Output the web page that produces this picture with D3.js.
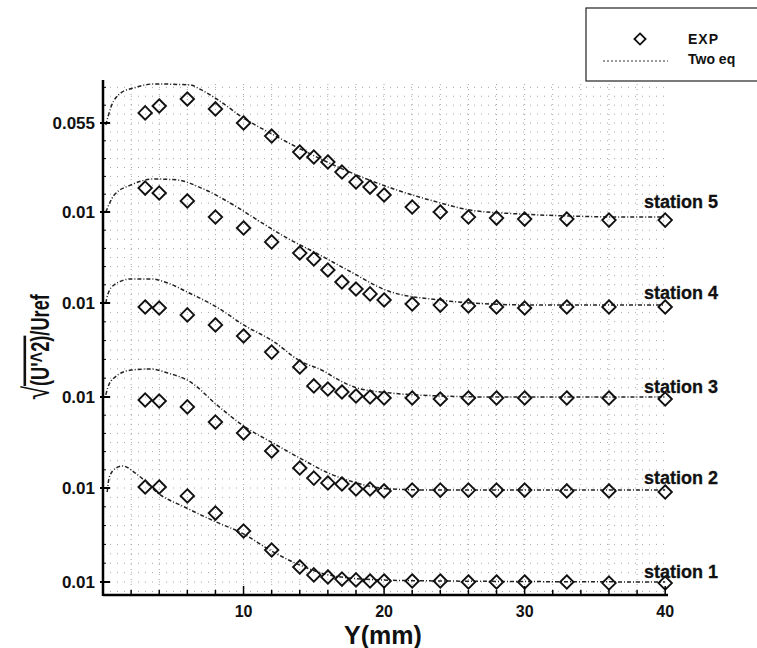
<!DOCTYPE html>
<html><head><meta charset="utf-8">
<script src="https://cdn.jsdelivr.net/npm/d3@7"></script>
<style>
html,body{margin:0;padding:0;background:#fff;}
svg{display:block;}
text{font-family:"Liberation Sans",Arial,Helvetica,sans-serif;font-weight:bold;fill:#111;}
</style></head>
<body>
<svg id="chart" width="757" height="648"></svg>
<script>
// ---------- data ----------
const xTicks = [10, 20, 30, 40];
const yTickValues = [0.01, 0.055, 0.10, 0.145, 0.19, 0.235];
const yTickLabels = ["0.01", "0.01", "0.01", "0.01", "0.01", "0.055"];
const stationNames = ["station 1", "station 2", "station 3", "station 4", "station 5"];
const stationOffsets = [0, 0.045, 0.09, 0.135, 0.18];

const expX = [3, 4, 6, 8, 10, 12, 14, 15, 16, 17, 18, 19, 20, 22, 24, 26, 28, 30, 33, 36, 40];
const exp1 = [0.0555, 0.0555, 0.0512, 0.0430, 0.0344, 0.0253, 0.0172, 0.0134, 0.0124, 0.0114, 0.0110, 0.0105, 0.0105, 0.0105, 0.0105, 0.0100, 0.0100, 0.0100, 0.0100, 0.0095, 0.0095];
const exp2 = [0.0535, 0.0530, 0.0501, 0.0426, 0.0372, 0.0283, 0.0199, 0.0149, 0.0125, 0.0120, 0.0095, 0.0095, 0.0086, 0.0090, 0.0090, 0.0090, 0.0090, 0.0090, 0.0086, 0.0086, 0.0081];
const exp3 = [0.0531, 0.0526, 0.0493, 0.0445, 0.0392, 0.0315, 0.0244, 0.0153, 0.0138, 0.0124, 0.0105, 0.0100, 0.0095, 0.0095, 0.0090, 0.0095, 0.0095, 0.0095, 0.0095, 0.0095, 0.0090];
const exp4 = [0.0671, 0.0646, 0.0606, 0.0525, 0.0471, 0.0402, 0.0347, 0.0318, 0.0263, 0.0204, 0.0169, 0.0145, 0.0115, 0.0095, 0.0090, 0.0086, 0.0081, 0.0076, 0.0081, 0.0081, 0.0081];
const exp5 = [0.0601, 0.0636, 0.0671, 0.0621, 0.0550, 0.0484, 0.0403, 0.0378, 0.0353, 0.0302, 0.0252, 0.0226, 0.0186, 0.0125, 0.0100, 0.0075, 0.0070, 0.0065, 0.0065, 0.0060, 0.0060];

const modelX1 = [0.3, 0.45, 0.93, 1.4, 2.2, 2.9, 3.9, 5.8, 7.9, 10, 12, 14, 16.4, 19.7, 24, 40];
const model1  = [0.0531, 0.0604, 0.0649, 0.0659, 0.0629, 0.0590, 0.0526, 0.0459, 0.0392, 0.0330, 0.0248, 0.0181, 0.0129, 0.0110, 0.0105, 0.0100];
const modelX2 = [0.2, 0.33, 0.78, 2.0, 3.4, 4.6, 6.1, 8.2, 10, 12.2, 14, 16.2, 17.8, 20.5, 24, 40];
const model2  = [0.0560, 0.0593, 0.0641, 0.0679, 0.0684, 0.0665, 0.0627, 0.0505, 0.0407, 0.0318, 0.0248, 0.0169, 0.0130, 0.0095, 0.0090, 0.0090];
const modelX3 = [0.2, 0.33, 0.78, 2.0, 3.4, 4.6, 6.0, 8.2, 10, 12.2, 13.9, 15.7, 16.9, 18.1, 20.5, 24, 27.6, 40];
const model3  = [0.0550, 0.0590, 0.0639, 0.0669, 0.0669, 0.0649, 0.0604, 0.0526, 0.0445, 0.0363, 0.0277, 0.0224, 0.0177, 0.0143, 0.0119, 0.0105, 0.0100, 0.0100];
const modelX4 = [0.2, 0.8, 2.0, 3.6, 5.3, 7.0, 9.3, 11.2, 13.1, 15.3, 17.4, 20.3, 23.9, 27.6, 31, 40];
const model4  = [0.0550, 0.0636, 0.0687, 0.0717, 0.0712, 0.0671, 0.0585, 0.0501, 0.0421, 0.0342, 0.0263, 0.0159, 0.0115, 0.0095, 0.0090, 0.0090];
const modelX5 = [0.2, 0.57, 1.28, 2.2, 3.6, 6.2, 7.0, 8.2, 10, 11.9, 13.9, 16.9, 20.5, 24.0, 26.1, 29.7, 33.3, 37, 40];
const model5  = [0.0540, 0.0631, 0.0702, 0.0727, 0.0747, 0.0742, 0.0717, 0.0666, 0.0575, 0.0499, 0.0424, 0.0322, 0.0221, 0.0146, 0.0110, 0.0090, 0.0080, 0.0075, 0.0075];

const expSeries = [exp1, exp2, exp3, exp4, exp5];
const modelXs = [modelX1, modelX2, modelX3, modelX4, modelX5];
const modelSeries = [model1, model2, model3, model4, model5];

// ---------- layout ----------
const svg = d3.select("#chart");
const x = d3.scaleLinear().domain([0, 40.2]).range([103, 668]);
const yMin = 0.0038, yMax = 0.2567;
const y = d3.scaleLinear()
  .domain([yMin, 0.01, 0.055, 0.10, 0.145, 0.19, 0.235, yMax])
  .range([595, 582, 488, 397, 303, 212, 123, 80]);

// grid (faint dotted)
const grid = svg.append("g").attr("stroke", "#8a8a8a").attr("stroke-width", 1).attr("opacity", 0.75);
grid.selectAll("line.v").data(d3.range(2, 40, 2)).join("line")
  .attr("x1", d => x(d)).attr("x2", d => x(d)).attr("y1", y(yMin)).attr("y2", y(yMax))
  .attr("stroke-dasharray", "1,4");
grid.selectAll("line.h").data(d3.range(0.01 - 0.0045, yMax, 0.0045)).join("line")
  .attr("x1", x(0)).attr("x2", x(40.2)).attr("y1", d => y(d)).attr("y2", d => y(d))
  .attr("stroke-dasharray", "1,6");

// model curves
const line = d3.line().curve(d3.curveMonotoneX);
modelSeries.forEach((ser, i) => {
  const pts = ser.map((v, j) => [x(modelXs[i][j]), y(v + stationOffsets[i])]);
  svg.append("path").attr("d", line(pts)).attr("fill", "none")
    .attr("stroke", "#222").attr("stroke-width", 1.5).attr("stroke-dasharray", "4,2,1,2");
});

// experimental diamonds
const diamond = d3.symbol().type(d3.symbolDiamond2).size(115);
expSeries.forEach((ser, i) => {
  svg.append("g").selectAll("path").data(ser).join("path")
    .attr("d", diamond)
    .attr("transform", (v, j) => `translate(${x(expX[j])},${y(v + stationOffsets[i])})`)
    .attr("fill", "none").attr("stroke", "#111").attr("stroke-width", 1.9);
});

// axes
const xAxisMinor = d3.range(2, 41, 2);
const ax = svg.append("g");
ax.append("line").attr("x1", x(0)).attr("x2", x(40.2)).attr("y1", y(yMin)).attr("y2", y(yMin))
  .attr("stroke", "#000").attr("stroke-width", 2.5);
ax.append("line").attr("x1", x(0)).attr("x2", x(0)).attr("y1", y(yMin) + 1).attr("y2", y(yMax))
  .attr("stroke", "#000").attr("stroke-width", 2.5);
ax.selectAll("line.xt").data(xAxisMinor).join("line")
  .attr("x1", d => x(d)).attr("x2", d => x(d)).attr("y1", y(yMin))
  .attr("y2", d => y(yMin) - (xTicks.includes(d) ? 9 : 5)).attr("stroke", "#000").attr("stroke-width", 1.5);
ax.selectAll("text.xl").data(xTicks).join("text")
  .attr("x", d => x(d)).attr("y", 617).attr("text-anchor", "middle")
  .attr("font-size", 16).text(d => d);

// y minor ticks
const yMinor = d3.range(0.01, yMax, 0.009);
ax.selectAll("line.ym").data(yMinor).join("line")
  .attr("x1", x(0)).attr("x2", x(0) + 3).attr("y1", d => y(d)).attr("y2", d => y(d))
  .attr("stroke", "#000").attr("stroke-width", 1);
ax.selectAll("line.yt").data(yTickValues).join("line")
  .attr("x1", x(0) - 3).attr("x2", x(0) + 7).attr("y1", d => y(d)).attr("y2", d => y(d))
  .attr("stroke", "#000").attr("stroke-width", 2);
ax.selectAll("text.yl").data(yTickValues).join("text")
  .attr("x", 95).attr("y", d => y(d) + 6).attr("text-anchor", "end")
  .attr("font-size", 17).text((d, i) => yTickLabels[i]);

// station labels
stationNames.forEach((name, i) => {
  svg.append("text").attr("x", 644).attr("y", y(0.01 + stationOffsets[i]) - 4)
    .attr("font-size", 18).attr("stroke", "#111").attr("stroke-width", 0.3).text(name);
});

// axis titles
svg.append("text").attr("x", 383).attr("y", 644).attr("text-anchor", "middle")
  .attr("font-size", 25).text("Y(mm)");

const yl = svg.append("text").attr("transform", "translate(49,347) rotate(-90) scale(0.7,1)")
  .attr("text-anchor", "middle").attr("font-size", 26);
yl.append("tspan").attr("font-size", 36).attr("font-weight", "normal").text("\u221A");
yl.append("tspan").style("text-decoration", "overline").text("(U'^2)");
yl.append("tspan").text("/Uref");

// legend
const lg = svg.append("g");
lg.append("rect").attr("x", 586).attr("y", 8).attr("width", 200).attr("height", 73)
  .attr("fill", "#fff").attr("stroke", "#222").attr("stroke-width", 1.2);
lg.append("path").attr("d", d3.symbol().type(d3.symbolDiamond2).size(80))
  .attr("transform", "translate(640,39)").attr("fill", "none").attr("stroke", "#111").attr("stroke-width", 1.8);
lg.append("line").attr("x1", 603).attr("x2", 668).attr("y1", 61).attr("y2", 61)
  .attr("stroke", "#333").attr("stroke-width", 1.2).attr("stroke-dasharray", "2,2");
lg.append("text").attr("x", 688).attr("y", 44).attr("font-size", 14).attr("letter-spacing", 1).text("EXP");
lg.append("text").attr("x", 688).attr("y", 64).attr("font-size", 14).text("Two eq");
</script>
</body></html>
